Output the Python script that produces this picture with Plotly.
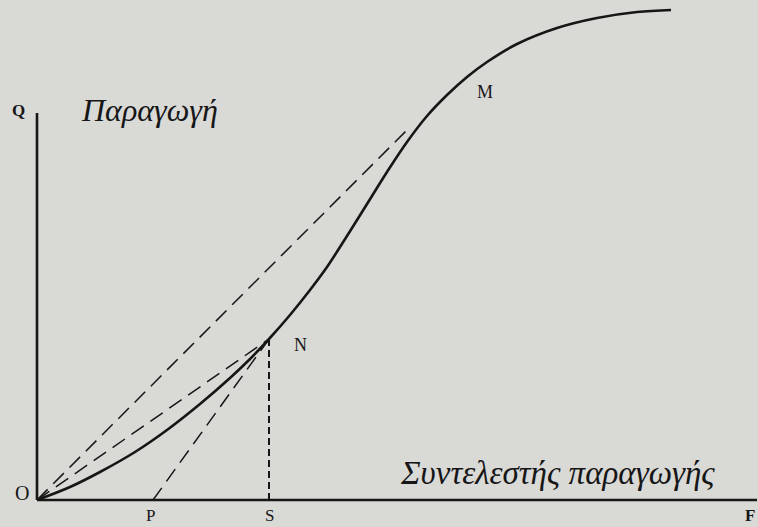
import plotly.graph_objects as go

# Production curve (factor input vs output)
factor_input = [0, 3.3, 6.3, 9.8, 13.0, 16.3, 19.3, 21.3, 23.2, 25.3, 27.3, 29.0,
                31.0, 33.0, 35.0, 37.0, 39.0, 41.0, 43.0, 45.0, 48.0, 52.0, 56.0, 60.0, 63.4]
production = [0, 1.3, 2.8, 4.8, 7.0, 9.6, 12.2, 14.1, 16.1, 18.5, 21.0, 23.3,
              26.4, 29.6, 32.8, 35.8, 38.4, 40.5, 42.3, 43.8, 45.6, 47.2, 48.2, 48.8, 49.0]

# Key points
point_O = (0.0, 0.0)
point_N = (23.2, 16.1)
point_S = (23.2, 0.0)
point_P = (11.6, 0.0)
point_M = (37.3, 37.3)
x_axis_end = 72.0
y_axis_end = 38.7

INK = "#161616"
PAPER = "#d9d9d6"

fig = go.Figure()

# axes
fig.add_trace(go.Scatter(x=[point_O[0], x_axis_end], y=[0, 0], mode="lines",
                         line=dict(color=INK, width=2.6), hoverinfo="skip"))
fig.add_trace(go.Scatter(x=[0, 0], y=[0, y_axis_end], mode="lines",
                         line=dict(color=INK, width=2.6), hoverinfo="skip"))

# dashed rays from O to M and O to N
fig.add_trace(go.Scatter(x=[point_O[0], point_M[0]], y=[point_O[1], point_M[1]], mode="lines",
                         line=dict(color=INK, width=1.5, dash="15px,8px"), hoverinfo="skip"))
fig.add_trace(go.Scatter(x=[point_O[0], point_N[0]], y=[point_O[1], point_N[1]], mode="lines",
                         line=dict(color=INK, width=1.5, dash="15px,8px"), hoverinfo="skip"))
# tangent P-N
fig.add_trace(go.Scatter(x=[point_P[0], point_N[0]], y=[point_P[1], point_N[1]], mode="lines",
                         line=dict(color=INK, width=1.5, dash="15px,8px"), hoverinfo="skip"))
# vertical N-S
fig.add_trace(go.Scatter(x=[point_N[0], point_S[0]], y=[point_N[1], point_S[1]], mode="lines",
                         line=dict(color=INK, width=2, dash="7px,4px"), hoverinfo="skip"))

# production curve
fig.add_trace(go.Scatter(x=factor_input, y=production, mode="lines",
                         line=dict(color=INK, width=2.6, shape="spline", smoothing=1.0),
                         hoverinfo="skip"))

serif = "Liberation Serif"
ann = []
def label(text, x, y, size=19, bold=False, italic=False, xanchor="center", yanchor="middle"):
    t = text
    if bold:
        t = "<b>" + t + "</b>"
    if italic:
        t = "<i>" + t + "</i>"
    ann.append(dict(text=t, x=x, y=y, xref="x", yref="y", showarrow=False,
                    font=dict(family=serif, size=size, color=INK),
                    xanchor=xanchor, yanchor=yanchor))

label("Q", -1.9, 39.0, size=17, bold=True)
label("O", -1.5, 0.7, size=20)
label("P", point_P[0] - 0.3, -1.5, size=17)
label("S", point_S[0], -1.5, size=17)
label("F", 71.3, -1.5, size=17, bold=True)
label("N", 26.3, 15.5, size=18)
label("M", 44.8, 40.8, size=18)
label("Παραγωγή", 11.2, 39.0, size=32, italic=True)
label("Συντελεστής παραγωγής", 52.0, 2.7, size=33, italic=True)

fig.update_layout(
    width=758, height=527,
    margin=dict(l=0, r=0, t=0, b=0),
    paper_bgcolor=PAPER, plot_bgcolor=PAPER,
    showlegend=False,
    annotations=ann,
    xaxis=dict(range=[-3.7, 72.1], visible=False, fixedrange=True),
    yaxis=dict(range=[-2.7, 50.0], visible=False, fixedrange=True),
)

fig.write_html("out.html", config={"displayModeBar": False},
               post_script="document.body.style.margin='0';document.body.style.background='%s';" % PAPER)
